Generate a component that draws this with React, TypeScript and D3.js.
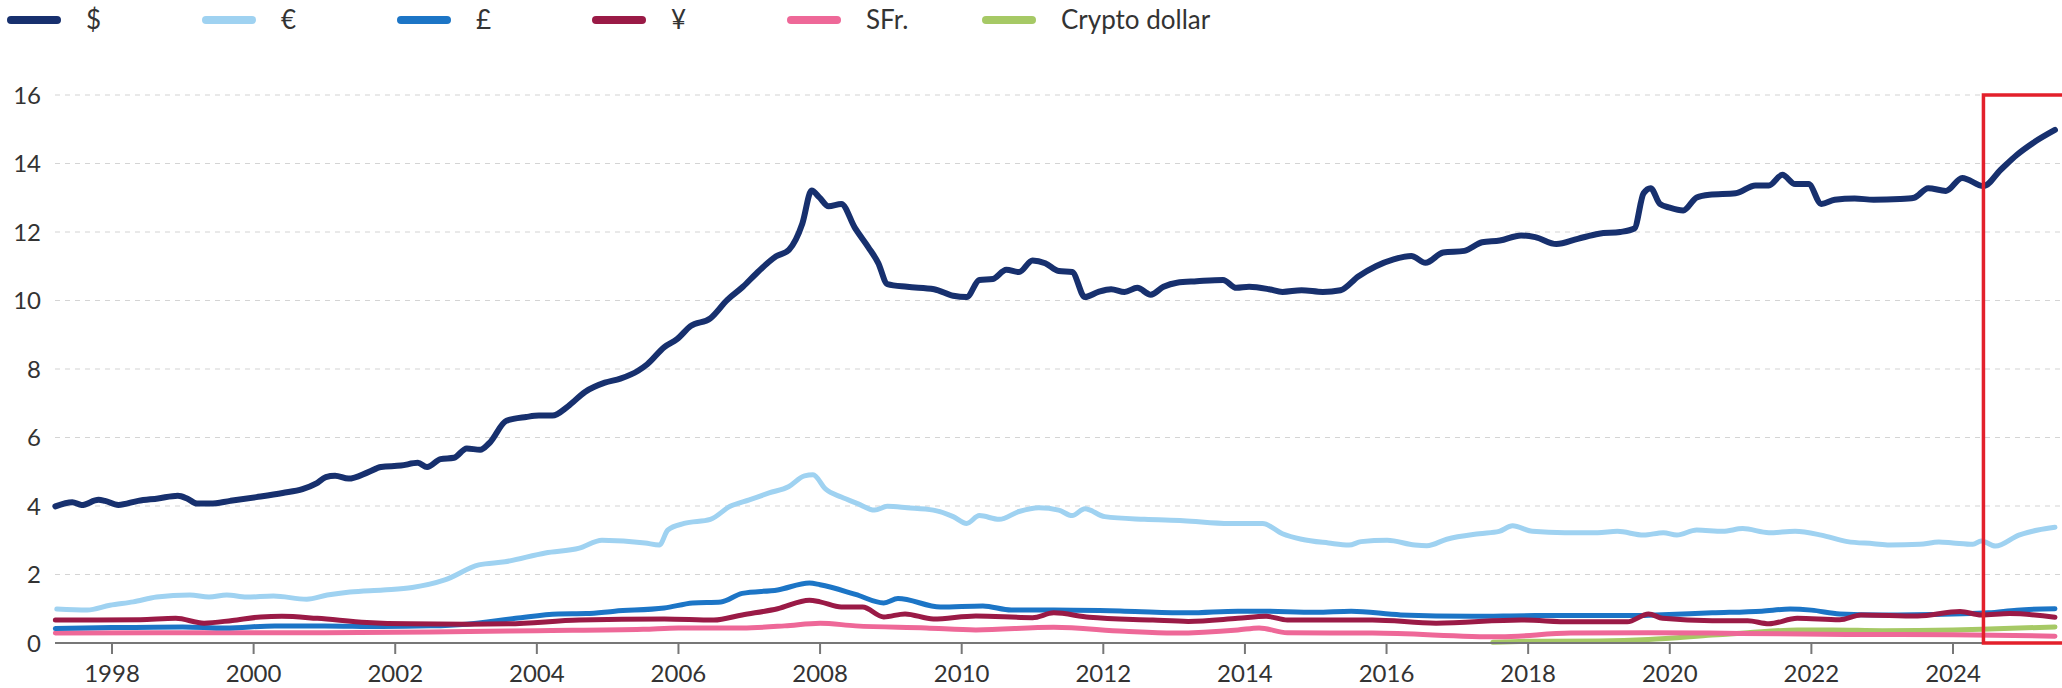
import React from "react";
import * as d3 from "d3";

type P = [number, number];

const usd: P[] = [
  [1997.2, 3.99], [1997.44, 4.11], [1997.57, 4.03], [1997.81, 4.18], [1997.9, 4.15], [1998.09, 4.03],
  [1998.37, 4.15], [1998.65, 4.22], [1998.93, 4.3], [1999.06, 4.22], [1999.2, 4.07], [1999.39, 4.07],
  [1999.67, 4.15], [2000.04, 4.26], [2000.41, 4.38], [2000.69, 4.49], [2000.88, 4.65], [2001.02, 4.84],
  [2001.15, 4.88], [2001.34, 4.8], [2001.62, 4.99], [2001.8, 5.14], [2002.08, 5.18], [2002.32, 5.26],
  [2002.45, 5.14], [2002.64, 5.37], [2002.83, 5.41], [2003.01, 5.68], [2003.2, 5.64], [2003.33, 5.84],
  [2003.57, 6.49], [2003.85, 6.6], [2004.03, 6.64], [2004.22, 6.64], [2004.44, 6.91], [2004.68, 7.33],
  [2004.96, 7.6], [2005.18, 7.72], [2005.43, 7.95], [2005.56, 8.14], [2005.8, 8.64], [2005.98, 8.87],
  [2006.17, 9.25], [2006.45, 9.48], [2006.69, 10.02], [2006.91, 10.4], [2007.1, 10.79], [2007.38, 11.29],
  [2007.56, 11.48], [2007.75, 12.25], [2007.88, 13.21], [2007.99, 13.01], [2008.12, 12.75], [2008.3, 12.82],
  [2008.49, 12.13], [2008.68, 11.56], [2008.82, 11.1], [2008.95, 10.48], [2009.23, 10.4], [2009.61, 10.33],
  [2009.88, 10.14], [2010.07, 10.1], [2010.25, 10.6], [2010.44, 10.63], [2010.63, 10.9], [2010.81, 10.83],
  [2011.0, 11.17], [2011.18, 11.09], [2011.37, 10.86], [2011.56, 10.83], [2011.74, 10.1], [2011.93, 10.25],
  [2012.11, 10.33], [2012.3, 10.25], [2012.48, 10.37], [2012.67, 10.17], [2012.85, 10.4], [2013.04, 10.52],
  [2013.32, 10.56], [2013.69, 10.6], [2013.88, 10.37], [2014.06, 10.4], [2014.34, 10.33], [2014.53, 10.25],
  [2014.8, 10.3], [2015.1, 10.25], [2015.35, 10.3], [2015.6, 10.7], [2015.85, 11.0], [2016.1, 11.2],
  [2016.35, 11.3], [2016.55, 11.1], [2016.8, 11.4], [2017.1, 11.45], [2017.35, 11.7], [2017.6, 11.75],
  [2017.9, 11.9], [2018.1, 11.85], [2018.4, 11.65], [2018.7, 11.8], [2019.0, 11.95], [2019.3, 12.0],
  [2019.5, 12.1], [2019.63, 13.13], [2019.73, 13.28], [2019.86, 12.82], [2020.0, 12.71], [2020.19, 12.63], [2020.38, 13.01],
  [2020.56, 13.09], [2020.93, 13.13], [2021.21, 13.36], [2021.4, 13.36], [2021.59, 13.67], [2021.77, 13.4],
  [2021.96, 13.4], [2022.14, 12.82], [2022.33, 12.94], [2022.61, 12.98], [2022.88, 12.94], [2023.25, 12.96],
  [2023.45, 13.0], [2023.65, 13.28], [2023.9, 13.2], [2024.13, 13.58], [2024.43, 13.34], [2024.67, 13.81],
  [2024.9, 14.25], [2025.13, 14.6], [2025.44, 14.98],
];

const eur: P[] = [
  [1997.22, 0.99], [1997.65, 0.96], [1997.97, 1.1], [1998.3, 1.2], [1998.63, 1.34], [1999.1, 1.4],
  [1999.37, 1.34], [1999.62, 1.4], [1999.9, 1.34], [2000.28, 1.37], [2000.75, 1.28], [2001.04, 1.4],
  [2001.36, 1.49], [2001.83, 1.55], [2002.24, 1.62], [2002.7, 1.84], [2003.18, 2.28], [2003.55, 2.37],
  [2004.12, 2.63], [2004.6, 2.77], [2004.92, 3.0], [2005.53, 2.92], [2005.73, 2.86], [2005.85, 3.3],
  [2006.08, 3.49], [2006.45, 3.61], [2006.73, 3.99], [2007.0, 4.18], [2007.28, 4.38], [2007.56, 4.57],
  [2007.78, 4.88], [2007.9, 4.91], [2008.08, 4.49], [2008.3, 4.26], [2008.53, 4.07], [2008.77, 3.88],
  [2008.95, 3.99], [2009.23, 3.95], [2009.6, 3.88], [2009.88, 3.69], [2010.07, 3.49], [2010.25, 3.72],
  [2010.53, 3.61], [2010.81, 3.84], [2011.09, 3.95], [2011.37, 3.88], [2011.56, 3.72], [2011.74, 3.92],
  [2012.02, 3.69], [2012.58, 3.61], [2013.13, 3.57], [2013.78, 3.49], [2014.25, 3.49], [2014.53, 3.19],
  [2014.8, 3.03], [2015.18, 2.92], [2015.47, 2.86], [2015.64, 2.96], [2016.01, 3.0], [2016.4, 2.86],
  [2016.57, 2.84], [2016.85, 3.03], [2017.31, 3.19], [2017.59, 3.26], [2017.78, 3.42], [2018.06, 3.26],
  [2018.52, 3.22], [2018.98, 3.22], [2019.26, 3.26], [2019.63, 3.15], [2019.91, 3.22], [2020.1, 3.15],
  [2020.38, 3.3], [2020.75, 3.26], [2021.03, 3.34], [2021.4, 3.22], [2021.77, 3.26], [2022.14, 3.15],
  [2022.51, 2.96], [2022.88, 2.9], [2023.1, 2.86], [2023.53, 2.88], [2023.8, 2.95], [2024.0, 2.92],
  [2024.28, 2.88], [2024.4, 2.98], [2024.6, 2.83], [2024.93, 3.15], [2025.2, 3.3], [2025.44, 3.38],
];

const gbp: P[] = [
  [1997.2, 0.42], [1998.0, 0.45], [1999.0, 0.47], [1999.6, 0.44], [2000.3, 0.5], [2001.0, 0.5],
  [2001.8, 0.48], [2002.5, 0.5], [2003.0, 0.55], [2003.7, 0.72], [2004.3, 0.85], [2004.7, 0.86],
  [2005.1, 0.93], [2005.8, 1.02], [2006.2, 1.17], [2006.6, 1.2], [2006.9, 1.45], [2007.4, 1.55],
  [2007.85, 1.75], [2008.0, 1.7], [2008.5, 1.42], [2008.9, 1.17], [2009.1, 1.3], [2009.7, 1.05],
  [2010.3, 1.08], [2010.7, 0.96], [2011.3, 0.96], [2012.3, 0.93], [2013.2, 0.88], [2013.9, 0.93],
  [2014.2, 0.93], [2015.0, 0.9], [2015.5, 0.93], [2016.2, 0.82], [2017.2, 0.78], [2018.1, 0.8],
  [2019.5, 0.8], [2019.8, 0.82], [2020.6, 0.88], [2021.3, 0.93], [2021.7, 0.99], [2022.0, 0.96],
  [2022.4, 0.85], [2023.0, 0.82], [2024.0, 0.85], [2024.5, 0.88], [2024.9, 0.96], [2025.44, 1.0],
];

const jpy: P[] = [
  [1997.2, 0.67], [1997.8, 0.67], [1998.4, 0.68], [1998.9, 0.72], [1999.3, 0.58], [1999.7, 0.66],
  [2000.1, 0.76], [2000.4, 0.78], [2000.9, 0.72], [2001.6, 0.6], [2002.2, 0.56], [2003.0, 0.55],
  [2003.6, 0.56], [2004.6, 0.67], [2005.8, 0.7], [2006.5, 0.67], [2006.9, 0.82], [2007.4, 1.0],
  [2007.85, 1.25], [2008.0, 1.2], [2008.3, 1.05], [2008.6, 1.05], [2008.9, 0.76], [2009.2, 0.85],
  [2009.6, 0.7], [2010.2, 0.79], [2011.0, 0.74], [2011.3, 0.88], [2011.8, 0.75], [2012.7, 0.67],
  [2013.2, 0.63], [2013.9, 0.72], [2014.3, 0.78], [2014.6, 0.67], [2015.8, 0.67], [2016.7, 0.58],
  [2017.9, 0.67], [2018.6, 0.62], [2019.4, 0.62], [2019.7, 0.85], [2019.9, 0.72], [2020.6, 0.65],
  [2021.1, 0.65], [2021.4, 0.56], [2021.8, 0.72], [2022.4, 0.68], [2022.7, 0.82], [2023.5, 0.79],
  [2024.1, 0.92], [2024.4, 0.82], [2024.8, 0.86], [2025.44, 0.75],
];

const chf: P[] = [
  [1997.2, 0.29], [1999.0, 0.3], [2001.0, 0.3], [2002.5, 0.32], [2004.0, 0.36], [2005.5, 0.4],
  [2006.0, 0.44], [2006.9, 0.44], [2007.5, 0.5], [2008.0, 0.58], [2008.5, 0.5], [2009.5, 0.44],
  [2010.2, 0.38], [2011.3, 0.46], [2012.3, 0.34], [2013.0, 0.29], [2013.9, 0.38], [2014.2, 0.44],
  [2014.6, 0.3], [2015.8, 0.29], [2017.6, 0.18], [2018.6, 0.29], [2019.7, 0.3], [2021.0, 0.28],
  [2022.5, 0.25], [2024.0, 0.24], [2025.44, 0.2],
];

const crypto: P[] = [
  [2017.5, 0.02], [2018.0, 0.05], [2019.0, 0.06], [2019.7, 0.1], [2020.6, 0.23], [2021.1, 0.3],
  [2021.8, 0.38], [2022.3, 0.38], [2023.0, 0.36], [2024.0, 0.38], [2024.4, 0.4], [2025.44, 0.47],
];

const yTicks = [0, 2, 4, 6, 8, 10, 12, 14, 16];
const xTicks = [1998, 2000, 2002, 2004, 2006, 2008, 2010, 2012, 2014, 2016, 2018, 2020, 2022, 2024];
const highlightStart = 2024.43;

const series = [
  { name: "$", data: usd, color: "#17306e", width: 6 },
  { name: "€", data: eur, color: "#9fd2f1", width: 5 },
  { name: "£", data: gbp, color: "#1c75c6", width: 5 },
  { name: "¥", data: jpy, color: "#9a1a46", width: 5 },
  { name: "SFr.", data: chf, color: "#ee6898", width: 5 },
  { name: "Crypto dollar", data: crypto, color: "#a6c965", width: 5 },
];
const drawOrder = ["Crypto dollar", "SFr.", "£", "¥", "€", "$"];

const W = 2062;
const H = 688;
const FONT = "Lato, 'Open Sans', sans-serif";

export default function App() {
  const x = d3.scaleLinear().domain([1998, 2024]).range([112, 1953]);
  const y = d3.scaleLinear().domain([0, 16]).range([643, 95]);
  const line = d3
    .line<P>()
    .x((d) => x(d[0]))
    .y((d) => y(d[1]))
    .curve(d3.curveMonotoneX);
  const left = 55;
  const right = 2062;

  return (
    <div style={{ position: "absolute", left: 0, top: 0, background: "#fff" }}>
      <svg width={W} height={H} style={{ display: "block", fontFamily: FONT }}>
        <rect width={W} height={H} fill="#fff" />
        {series.map((s, i) => {
          const lx = 7 + i * 195;
          return (
            <g key={s.name}>
              <line x1={lx + 4} x2={lx + 50} y1={20} y2={20} stroke={s.color} strokeWidth={8} strokeLinecap="round" />
              <text x={lx + 79} y={20} dy="0.36em" fontSize={26} fill="#333">
                {s.name}
              </text>
            </g>
          );
        })}
        {yTicks.map((t) => (
          <g key={t}>
            {t > 0 && (
              <line x1={left} x2={right} y1={y(t)} y2={y(t)} stroke="#d4d4d4" strokeWidth={1.2} strokeDasharray="5 5" />
            )}
            <text x={41} y={y(t)} dy="0.36em" textAnchor="end" fontSize={24} fill="#333">
              {t}
            </text>
          </g>
        ))}
        {drawOrder.map((n) => {
          const s = series.find((q) => q.name === n)!;
          return (
            <path
              key={n}
              d={line(s.data) || ""}
              fill="none"
              stroke={s.color}
              strokeWidth={s.width}
              strokeLinejoin="round"
              strokeLinecap="round"
            />
          );
        })}
        <line x1={left} x2={right} y1={y(0)} y2={y(0)} stroke="#777" strokeWidth={2} />
        {xTicks.map((t) => (
          <g key={t}>
            <line x1={x(t)} x2={x(t)} y1={y(0)} y2={y(0) + 11} stroke="#777" strokeWidth={2} />
            <text x={x(t)} y={673} dy="0.36em" textAnchor="middle" fontSize={24} fill="#333">
              {t}
            </text>
          </g>
        ))}
        <rect
          x={x(highlightStart)}
          y={y(16)}
          width={right - x(highlightStart) + 10}
          height={y(0) - y(16)}
          fill="none"
          stroke="#e3202b"
          strokeWidth={3.5}
        />
      </svg>
    </div>
  );
}
